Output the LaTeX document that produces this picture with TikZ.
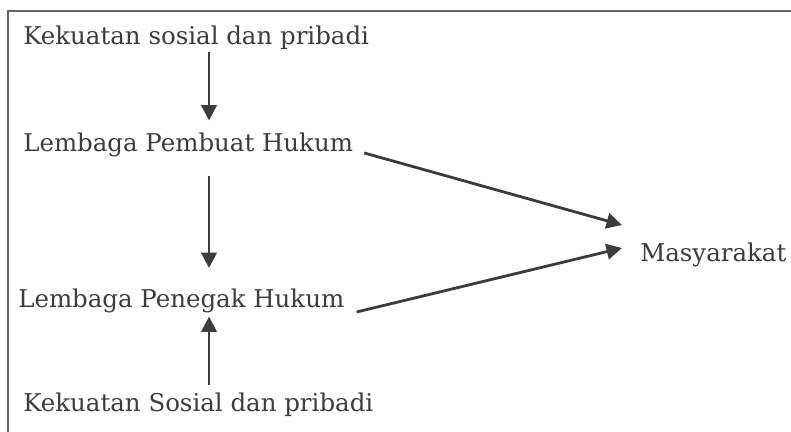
\documentclass[tikz,border=0pt]{standalone}
\usepackage{fontspec}
\setmainfont{DejaVu Serif}
\usetikzlibrary{arrows.meta}

\definecolor{ink}{HTML}{3C3C3C}
\tikzset{
    label/.style={anchor=base west, inner sep=0pt, text=ink, font=\fontsize{17.4}{20}\selectfont},
    arr/.style={draw=ink, line width=2pt, -{Triangle[length=11pt, width=11pt]}}
}

\begin{document}
\begin{tikzpicture}[x=0.025cm, y=-0.025cm]
    \useasboundingbox (0, 0) rectangle (791, 432);

    % Frame (top and left edge only)
    \draw[ink!80, line width=1.1pt] (791, 11) -- (8, 11) -- (8, 432);

    % Labels
    \node[label] (sosial) at (23, 45) {Kekuatan sosial dan pribadi};
    \node[label] (pembuat) at (23, 152) {Lembaga Pembuat Hukum};
    \node[label] (penegak) at (18, 308) {Lembaga Penegak Hukum};
    \node[label] (sosialb) at (23, 412) {Kekuatan Sosial dan pribadi};
    \node[label] (masy) at (640, 262) {Masyarakat};

    % Column of the vertical arrows
    \coordinate (axis) at (209, 0);

    % Vertical arrows
    \draw[arr, shorten <=1pt, shorten >=9pt] (sosial.south -| axis) -- (pembuat.north -| axis);
    \draw[arr, shorten <=13pt, shorten >=15pt] (pembuat.south -| axis) -- (penegak.north -| axis);
    \draw[arr, shorten <=6pt, shorten >=2pt] (sosialb.north -| axis) -- (penegak.south -| axis);

    % Arrows to Masyarakat
    \draw[arr] ([shift={(11, 1)}]pembuat.base east) -- ([shift={(-18, -37)}]masy.base west);
    \draw[arr] ([shift={(12, 4)}]penegak.base east) -- ([shift={(-18, -14)}]masy.base west);
\end{tikzpicture}
\end{document}
